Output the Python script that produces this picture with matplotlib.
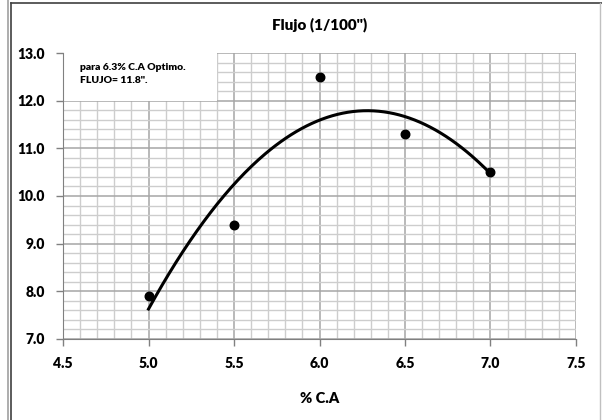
import numpy as np
import matplotlib.pyplot as plt
from matplotlib.ticker import MultipleLocator
from matplotlib.patches import Rectangle

# % C.A vs flujo
ca = [5.0, 5.5, 6.0, 6.5, 7.0]
flujo = [7.9, 9.4, 12.5, 11.3, 10.5]

plt.rcParams['font.family'] = ['Lato', 'DejaVu Sans']

fig = plt.figure(figsize=(6.02, 4.2), dpi=100)
ax = fig.add_axes([0.1047, 0.1929, 0.8521, 0.6809])

# linea de tendencia polinomica (orden 2), como en excel
coef = np.polyfit(ca, flujo, 2)
xs = np.linspace(min(ca), max(ca), 200)
ax.plot(xs, np.polyval(coef, xs), color='black', lw=2.2, zorder=3)
ax.scatter(ca, flujo, s=38, color='black', zorder=4)

ax.set_xlim(4.5, 7.5)
ax.set_ylim(7.0, 13.0)
ax.xaxis.set_major_locator(MultipleLocator(0.5))
ax.xaxis.set_minor_locator(MultipleLocator(0.1))
ax.yaxis.set_major_locator(MultipleLocator(1.0))
ax.yaxis.set_minor_locator(MultipleLocator(0.2))
ax.grid(which='major', color='#a6a6a6', lw=1.1, zorder=0)
ax.grid(which='minor', color='#cdcdcd', lw=1.0, zorder=0)
ax.set_axisbelow(True)
ax.xaxis.set_major_formatter(lambda v, p: '%.1f' % v)
ax.yaxis.set_major_formatter(lambda v, p: '%.1f' % v)
ax.tick_params(which='major', length=5, width=1, color='#808080', labelsize=10, pad=8)
ax.tick_params(which='minor', length=0)
for lab in ax.get_xticklabels() + ax.get_yticklabels():
    lab.set_fontweight('heavy')
for s in ['left', 'bottom']:
    ax.spines[s].set_color('#808080')
for s in ['top', 'right']:
    ax.spines[s].set_visible(False)

ax.set_title('Flujo (1/100")', fontsize=11, fontweight='heavy', pad=17)
ax.set_xlabel('% C.A', fontsize=10.5, fontweight='heavy', labelpad=16)

ax.add_patch(Rectangle((4.5, 12.0), 0.9, 1.0, facecolor='white', edgecolor='none', zorder=2))
ax.text(4.6, 12.56, 'para 6.3% C.A Optimo.\nFLUJO= 11.8".', fontsize=7.5, fontweight='heavy',
        va='center', ha='left', linespacing=1.5, zorder=5)

# marco del grafico
fig.add_artist(plt.Line2D([0.0135, 0.0135], [0, 1], color='#a0a0a0', lw=1.2))
fig.add_artist(plt.Line2D([0.0175, 0.0175], [0, 0.993], color='#404040', lw=1.2))
fig.add_artist(plt.Line2D([0.0175, 1.0], [0.993, 0.993], color='#404040', lw=1.2))
fig.add_artist(plt.Line2D([0.997, 0.997], [0, 0.993], color='#c0c0c0', lw=1.0))

fig.savefig('out.png', dpi=100)
